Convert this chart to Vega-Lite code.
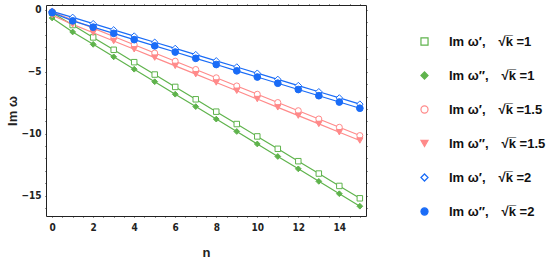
{
  "$schema": "https://vega.github.io/schema/vega-lite/v6.json",
  "autosize": {"type": "none"},
  "width": 320,
  "height": 211,
  "padding": {"left": 46, "top": 5, "right": 190, "bottom": 46},
  "background": "white",
  "config": {
    "view": {"stroke": "#222", "strokeWidth": 1},
    "axis": {
      "domain": false, "grid": false, "tickColor": "#222", "tickWidth": 1, "tickSize": 1,
      "labelFont": "Liberation Sans Narrow, DejaVu Sans Condensed, sans-serif", "labelFontWeight": "bold",
      "labelFontSize": 10, "labelColor": "#222",
      "titleFont": "Liberation Sans, sans-serif", "titleFontWeight": "bold", "titleFontSize": 13, "titleColor": "#222"
    },
    "legend": {
      "labelFont": "Liberation Sans, sans-serif", "labelFontWeight": "bold", "labelFontSize": 13, "labelColor": "#111", "labelLimit": 300
    }
  },
  "data": {"values": [
    {"n":0,"s":"Im ω′,\u2003√k̅ =1","v":-0.22},{"n":1,"s":"Im ω′,\u2003√k̅ =1","v":-1.22},{"n":2,"s":"Im ω′,\u2003√k̅ =1","v":-2.22},{"n":3,"s":"Im ω′,\u2003√k̅ =1","v":-3.22},
    {"n":4,"s":"Im ω′,\u2003√k̅ =1","v":-4.22},{"n":5,"s":"Im ω′,\u2003√k̅ =1","v":-5.22},{"n":6,"s":"Im ω′,\u2003√k̅ =1","v":-6.22},{"n":7,"s":"Im ω′,\u2003√k̅ =1","v":-7.22},
    {"n":8,"s":"Im ω′,\u2003√k̅ =1","v":-8.22},{"n":9,"s":"Im ω′,\u2003√k̅ =1","v":-9.22},{"n":10,"s":"Im ω′,\u2003√k̅ =1","v":-10.22},{"n":11,"s":"Im ω′,\u2003√k̅ =1","v":-11.22},
    {"n":12,"s":"Im ω′,\u2003√k̅ =1","v":-12.22},{"n":13,"s":"Im ω′,\u2003√k̅ =1","v":-13.22},{"n":14,"s":"Im ω′,\u2003√k̅ =1","v":-14.22},{"n":15,"s":"Im ω′,\u2003√k̅ =1","v":-15.22},
    {"n":0,"s":"Im ω″,\u2003√k̅ =1","v":-0.65},{"n":1,"s":"Im ω″,\u2003√k̅ =1","v":-1.78},{"n":2,"s":"Im ω″,\u2003√k̅ =1","v":-2.78},{"n":3,"s":"Im ω″,\u2003√k̅ =1","v":-3.79},
    {"n":4,"s":"Im ω″,\u2003√k̅ =1","v":-4.79},{"n":5,"s":"Im ω″,\u2003√k̅ =1","v":-5.8},{"n":6,"s":"Im ω″,\u2003√k̅ =1","v":-6.81},{"n":7,"s":"Im ω″,\u2003√k̅ =1","v":-7.81},
    {"n":8,"s":"Im ω″,\u2003√k̅ =1","v":-8.82},{"n":9,"s":"Im ω″,\u2003√k̅ =1","v":-9.82},{"n":10,"s":"Im ω″,\u2003√k̅ =1","v":-10.83},{"n":11,"s":"Im ω″,\u2003√k̅ =1","v":-11.84},
    {"n":12,"s":"Im ω″,\u2003√k̅ =1","v":-12.84},{"n":13,"s":"Im ω″,\u2003√k̅ =1","v":-13.85},{"n":14,"s":"Im ω″,\u2003√k̅ =1","v":-14.85},{"n":15,"s":"Im ω″,\u2003√k̅ =1","v":-15.86},
    {"n":0,"s":"Im ω′,\u2003√k̅ =1.5","v":-0.14},{"n":1,"s":"Im ω′,\u2003√k̅ =1.5","v":-0.81},{"n":2,"s":"Im ω′,\u2003√k̅ =1.5","v":-1.47},{"n":3,"s":"Im ω′,\u2003√k̅ =1.5","v":-2.14},
    {"n":4,"s":"Im ω′,\u2003√k̅ =1.5","v":-2.81},{"n":5,"s":"Im ω′,\u2003√k̅ =1.5","v":-3.48},{"n":6,"s":"Im ω′,\u2003√k̅ =1.5","v":-4.14},{"n":7,"s":"Im ω′,\u2003√k̅ =1.5","v":-4.81},
    {"n":8,"s":"Im ω′,\u2003√k̅ =1.5","v":-5.48},{"n":9,"s":"Im ω′,\u2003√k̅ =1.5","v":-6.14},{"n":10,"s":"Im ω′,\u2003√k̅ =1.5","v":-6.81},{"n":11,"s":"Im ω′,\u2003√k̅ =1.5","v":-7.48},
    {"n":12,"s":"Im ω′,\u2003√k̅ =1.5","v":-8.14},{"n":13,"s":"Im ω′,\u2003√k̅ =1.5","v":-8.81},{"n":14,"s":"Im ω′,\u2003√k̅ =1.5","v":-9.48},{"n":15,"s":"Im ω′,\u2003√k̅ =1.5","v":-10.15},
    {"n":0,"s":"Im ω″,\u2003√k̅ =1.5","v":-0.42},{"n":1,"s":"Im ω″,\u2003√k̅ =1.5","v":-1.17},{"n":2,"s":"Im ω″,\u2003√k̅ =1.5","v":-1.84},{"n":3,"s":"Im ω″,\u2003√k̅ =1.5","v":-2.51},
    {"n":4,"s":"Im ω″,\u2003√k̅ =1.5","v":-3.18},{"n":5,"s":"Im ω″,\u2003√k̅ =1.5","v":-3.85},{"n":6,"s":"Im ω″,\u2003√k̅ =1.5","v":-4.52},{"n":7,"s":"Im ω″,\u2003√k̅ =1.5","v":-5.19},
    {"n":8,"s":"Im ω″,\u2003√k̅ =1.5","v":-5.86},{"n":9,"s":"Im ω″,\u2003√k̅ =1.5","v":-6.53},{"n":10,"s":"Im ω″,\u2003√k̅ =1.5","v":-7.2},{"n":11,"s":"Im ω″,\u2003√k̅ =1.5","v":-7.87},
    {"n":12,"s":"Im ω″,\u2003√k̅ =1.5","v":-8.54},{"n":13,"s":"Im ω″,\u2003√k̅ =1.5","v":-9.21},{"n":14,"s":"Im ω″,\u2003√k̅ =1.5","v":-9.88},{"n":15,"s":"Im ω″,\u2003√k̅ =1.5","v":-10.55},
    {"n":0,"s":"Im ω′,\u2003√k̅ =2","v":-0.11},{"n":1,"s":"Im ω′,\u2003√k̅ =2","v":-0.6},{"n":2,"s":"Im ω′,\u2003√k̅ =2","v":-1.11},{"n":3,"s":"Im ω′,\u2003√k̅ =2","v":-1.61},
    {"n":4,"s":"Im ω′,\u2003√k̅ =2","v":-2.11},{"n":5,"s":"Im ω′,\u2003√k̅ =2","v":-2.61},{"n":6,"s":"Im ω′,\u2003√k̅ =2","v":-3.11},{"n":7,"s":"Im ω′,\u2003√k̅ =2","v":-3.61},
    {"n":8,"s":"Im ω′,\u2003√k̅ =2","v":-4.11},{"n":9,"s":"Im ω′,\u2003√k̅ =2","v":-4.61},{"n":10,"s":"Im ω′,\u2003√k̅ =2","v":-5.11},{"n":11,"s":"Im ω′,\u2003√k̅ =2","v":-5.61},
    {"n":12,"s":"Im ω′,\u2003√k̅ =2","v":-6.11},{"n":13,"s":"Im ω′,\u2003√k̅ =2","v":-6.61},{"n":14,"s":"Im ω′,\u2003√k̅ =2","v":-7.11},{"n":15,"s":"Im ω′,\u2003√k̅ =2","v":-7.61},
    {"n":0,"s":"Im ω″,\u2003√k̅ =2","v":-0.22},{"n":1,"s":"Im ω″,\u2003√k̅ =2","v":-0.88},{"n":2,"s":"Im ω″,\u2003√k̅ =2","v":-1.39},{"n":3,"s":"Im ω″,\u2003√k̅ =2","v":-1.89},
    {"n":4,"s":"Im ω″,\u2003√k̅ =2","v":-2.4},{"n":5,"s":"Im ω″,\u2003√k̅ =2","v":-2.9},{"n":6,"s":"Im ω″,\u2003√k̅ =2","v":-3.4},{"n":7,"s":"Im ω″,\u2003√k̅ =2","v":-3.91},
    {"n":8,"s":"Im ω″,\u2003√k̅ =2","v":-4.41},{"n":9,"s":"Im ω″,\u2003√k̅ =2","v":-4.92},{"n":10,"s":"Im ω″,\u2003√k̅ =2","v":-5.42},{"n":11,"s":"Im ω″,\u2003√k̅ =2","v":-5.92},
    {"n":12,"s":"Im ω″,\u2003√k̅ =2","v":-6.43},{"n":13,"s":"Im ω″,\u2003√k̅ =2","v":-6.93},{"n":14,"s":"Im ω″,\u2003√k̅ =2","v":-7.44},{"n":15,"s":"Im ω″,\u2003√k̅ =2","v":-7.94}
  ]},
  "layer": [
    {
      "mark": {"type": "line", "strokeWidth": 1.2},
      "encoding": {
        "x": {"field": "n", "type": "quantitative", "scale": {"domain": [-0.3, 15.3], "nice": false, "zero": false},
          "axis": {"orient": "bottom", "title": "n", "titlePadding": 14,
            "values": [0,0.5,1,1.5,2,2.5,3,3.5,4,4.5,5,5.5,6,6.5,7,7.5,8,8.5,9,9.5,10,10.5,11,11.5,12,12.5,13,13.5,14,14.5,15],
            "labelExpr": "datum.value % 2 === 0 ? format(datum.value, 'd') : ''", "labelPadding": 5, "labelFlush": false,
            "encode": {"ticks": {"y2": {"condition": {"test": "datum.value % 2 === 0", "value": -4}, "value": -2}}}}},
        "y": {"field": "v", "type": "quantitative", "scale": {"domain": [-16.65, 0.4], "nice": false, "zero": false},
          "axis": {"orient": "left", "title": "Im  ω", "titleX": -34, "titleY": 105.5, "titleAngle": -90,
            "titleBaseline": "middle", "titleAlign": "center",
            "values": [-16,-15,-14,-13,-12,-11,-10,-9,-8,-7,-6,-5,-4,-3,-2,-1,0],
            "labelExpr": "datum.value % 5 === 0 ? datum.label : ''", "labelPadding": 4, "labelFlush": false,
            "encode": {"ticks": {"x2": {"condition": {"test": "datum.value % 5 === 0", "value": 4}, "value": 2}}}}},
        "color": {"field": "s", "type": "nominal", "sort": null, "legend": null,
          "scale": {"range": ["#5fb34c","#5fb34c","#ff8a8a","#ff8a8a","#1a6cf7","#1a6cf7"]}}
      }
    },
    {
      "mark": {"type": "point", "opacity": 1, "strokeWidth": 1},
      "encoding": {
        "x": {"field": "n", "type": "quantitative",
          "axis": {"orient": "top", "title": null, "labels": false,
            "values": [0,0.5,1,1.5,2,2.5,3,3.5,4,4.5,5,5.5,6,6.5,7,7.5,8,8.5,9,9.5,10,10.5,11,11.5,12,12.5,13,13.5,14,14.5,15],
            "encode": {"ticks": {"y2": {"condition": {"test": "datum.value % 2 === 0", "value": 4}, "value": 2}}}}},
        "y": {"field": "v", "type": "quantitative",
          "axis": {"orient": "right", "title": null, "labels": false,
            "values": [-16,-15,-14,-13,-12,-11,-10,-9,-8,-7,-6,-5,-4,-3,-2,-1,0],
            "encode": {"ticks": {"x2": {"condition": {"test": "datum.value % 5 === 0", "value": -4}, "value": -2}}}}},
        "size": {"field": "s", "type": "nominal", "sort": null, "legend": null,
          "scale": {"range": [30, 45, 42, 48, 45, 66]}},
        "shape": {"field": "s", "type": "nominal",
          "scale": {"domain": ["Im ω′,\u2003√k̅ =1","Im ω″,\u2003√k̅ =1","Im ω′,\u2003√k̅ =1.5","Im ω″,\u2003√k̅ =1.5","Im ω′,\u2003√k̅ =2","Im ω″,\u2003√k̅ =2"],
            "range": ["square","diamond","circle","triangle-down","diamond","circle"]},
          "legend": {"title": null, "orient": "none", "legendX": 372, "legendY": 30, "padding": 0, "rowPadding": 20,
            "labelOffset": 18, "symbolSize": 50, "symbolStrokeWidth": 1.2}},
        "fill": {"field": "s", "type": "nominal",
          "scale": {"domain": ["Im ω′,\u2003√k̅ =1","Im ω″,\u2003√k̅ =1","Im ω′,\u2003√k̅ =1.5","Im ω″,\u2003√k̅ =1.5","Im ω′,\u2003√k̅ =2","Im ω″,\u2003√k̅ =2"],
            "range": ["white","#5fb34c","white","#ff8a8a","white","#1a6cf7"]},
          "legend": {"title": null, "orient": "none", "legendX": 372, "legendY": 30, "padding": 0, "rowPadding": 20,
            "labelOffset": 18, "symbolSize": 50, "symbolStrokeWidth": 1.2}},
        "stroke": {"field": "s", "type": "nominal",
          "scale": {"domain": ["Im ω′,\u2003√k̅ =1","Im ω″,\u2003√k̅ =1","Im ω′,\u2003√k̅ =1.5","Im ω″,\u2003√k̅ =1.5","Im ω′,\u2003√k̅ =2","Im ω″,\u2003√k̅ =2"],
            "range": ["#5fb34c","#5fb34c","#ff8a8a","#ff8a8a","#1a6cf7","#1a6cf7"]},
          "legend": {"title": null, "orient": "none", "legendX": 372, "legendY": 30, "padding": 0, "rowPadding": 20,
            "labelOffset": 18, "symbolSize": 50, "symbolStrokeWidth": 1.2}}
      }
    }
  ],
  "resolve": {"axis": {"x": "independent", "y": "independent"}}
}
